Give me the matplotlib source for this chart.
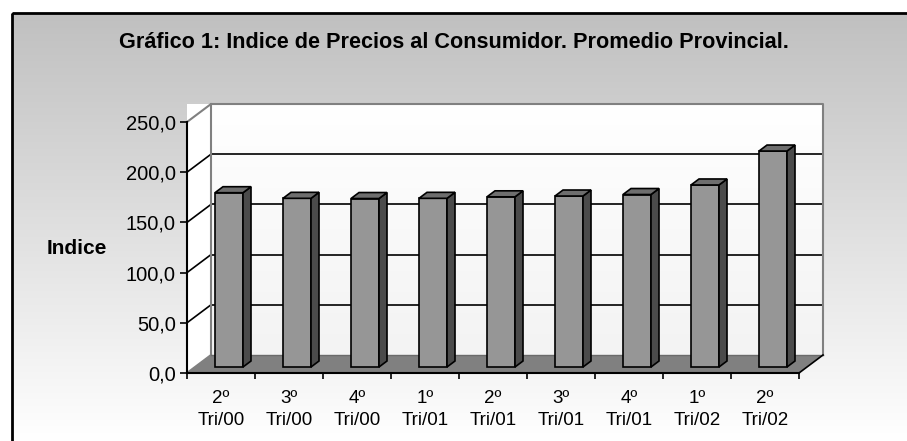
import numpy as np
import matplotlib
matplotlib.use('Agg')
import matplotlib.pyplot as plt
from matplotlib.patches import Polygon, Rectangle
from matplotlib.colors import LinearSegmentedColormap

plt.rcParams['font.family'] = ['Liberation Sans', 'DejaVu Sans']

# datos
trimestres = ['2º\nTri/00', '3º\nTri/00', '4º\nTri/00', '1º\nTri/01', '2º\nTri/01',
              '3º\nTri/01', '4º\nTri/01', '1º\nTri/02', '2º\nTri/02']
indice = [173.6, 168.0, 167.8, 168.0, 169.5, 170.3, 171.8, 181.3, 215.1]
yticks = [0, 50, 100, 150, 200, 250]
titulo = 'Gráfico 1: Indice de Precios al Consumidor. Promedio Provincial.'

W, H = 907, 441
fig = plt.figure(figsize=(W / 100, H / 100), dpi=100)

# fondo con degradado y marco
bg = fig.add_axes([0, 0, 1, 1])
bg.set_xlim(0, W)
bg.set_ylim(H, 0)
bg.axis('off')
grad = np.linspace(0, 1, 256)[:, None]
bg.imshow(grad, cmap=LinearSegmentedColormap.from_list('bg', ['#c0c0c0', '#ffffff']),
          extent=(12, W, H, 13), aspect='auto')
bg.add_patch(Rectangle((12, 13), W, H, fill=False, ec='black', lw=2))

fig.text(454 / W, 1 - 42 / H, titulo, ha='center', va='center', fontsize=15.6, fontweight='bold')
fig.text(77 / W, 1 - 248 / H, 'Indice', ha='center', va='center', fontsize=15, fontweight='bold')

ax = fig.add_axes([187 / W, (H - 373) / H, 612 / W, 251 / H])
n = len(indice)
ymax = yticks[-1]
dx = 24 / 68
dy = 18 * ymax / 251

# paredes
ax.add_patch(Rectangle((0, 0), dx, ymax + dy, fc='white', ec='none', clip_on=False, zorder=0))
ax.imshow(grad, cmap=LinearSegmentedColormap.from_list('wall', ['#ffffff', '#f3f3f3']),
          extent=(dx, n + dx, dy, ymax + dy), aspect='auto', zorder=0, clip_on=False)
for v in yticks[1:-1]:
    ax.plot([dx, n + dx], [v + dy, v + dy], color='black', lw=1.2, clip_on=False, zorder=1)
    ax.plot([0, dx], [v, v + dy], color='black', lw=1.2, clip_on=False, zorder=1)
ax.plot([0, dx, n + dx, n + dx], [ymax, ymax + dy, ymax + dy, dy], color='#808080', lw=1.5,
        clip_on=False, zorder=1)
ax.plot([dx, dx], [dy, ymax + dy], color='#808080', lw=1.5, clip_on=False, zorder=1)
ax.plot([0, dx], [0, dy], color='#808080', lw=1.5, clip_on=False, zorder=1)

# piso
ax.add_patch(Polygon([(0, 0), (n, 0), (n + dx, dy), (dx, dy)], fc='#808080', ec='none',
                     clip_on=False, zorder=1))
ax.plot([dx, n + dx], [dy, dy], color='#6a6a6a', lw=1, clip_on=False, zorder=1)
ax.plot([n, n + dx], [0, dy], color='black', lw=1.2, clip_on=False, zorder=1)

# barras 3D
bw = 28 / 68
x = np.arange(n) + 0.5 + dx / 3
ax.bar(x, indice, width=bw, bottom=dy / 3, color='#969696', edgecolor='black', lw=1.2,
       zorder=3, clip_on=False)
for xc, v in zip(x, indice):
    x1 = xc + bw / 2
    x0 = xc - bw / 2
    y0 = dy / 3
    top = y0 + v
    ax.add_patch(Polygon([(x1, y0), (x1 + dx / 3, y0 + dy / 3), (x1 + dx / 3, top + dy / 3), (x1, top)],
                         fc='#4b4b4b', ec='black', lw=1.2, zorder=3, clip_on=False))
    ax.add_patch(Polygon([(x0, top), (x1, top), (x1 + dx / 3, top + dy / 3), (x0 + dx / 3, top + dy / 3)],
                         fc='#6e6e6e', ec='black', lw=1.2, zorder=3, clip_on=False))

ax.set_xlim(0, n)
ax.set_ylim(0, ymax)
ax.patch.set_alpha(0)
for s in ['top', 'right']:
    ax.spines[s].set_visible(False)
for s in ['left', 'bottom']:
    ax.spines[s].set_linewidth(1.5)
    ax.spines[s].set_zorder(4)

ax.set_yticks(yticks)
ax.set_yticklabels([f'{v:.1f}'.replace('.', ',') for v in yticks])
ax.tick_params(axis='y', length=5, width=1.2, pad=3, labelsize=14.5)
ax.set_xticks(range(n + 1))
ax.set_xticklabels([])
ax.set_xticks(np.arange(n) + 0.5, minor=True)
ax.set_xticklabels(trimestres, minor=True, linespacing=1.4)
ax.tick_params(axis='x', which='major', length=4.5, width=1.2)
ax.tick_params(axis='x', which='minor', length=0, pad=12, labelsize=13.5)

fig.savefig('out.png', dpi=100)
